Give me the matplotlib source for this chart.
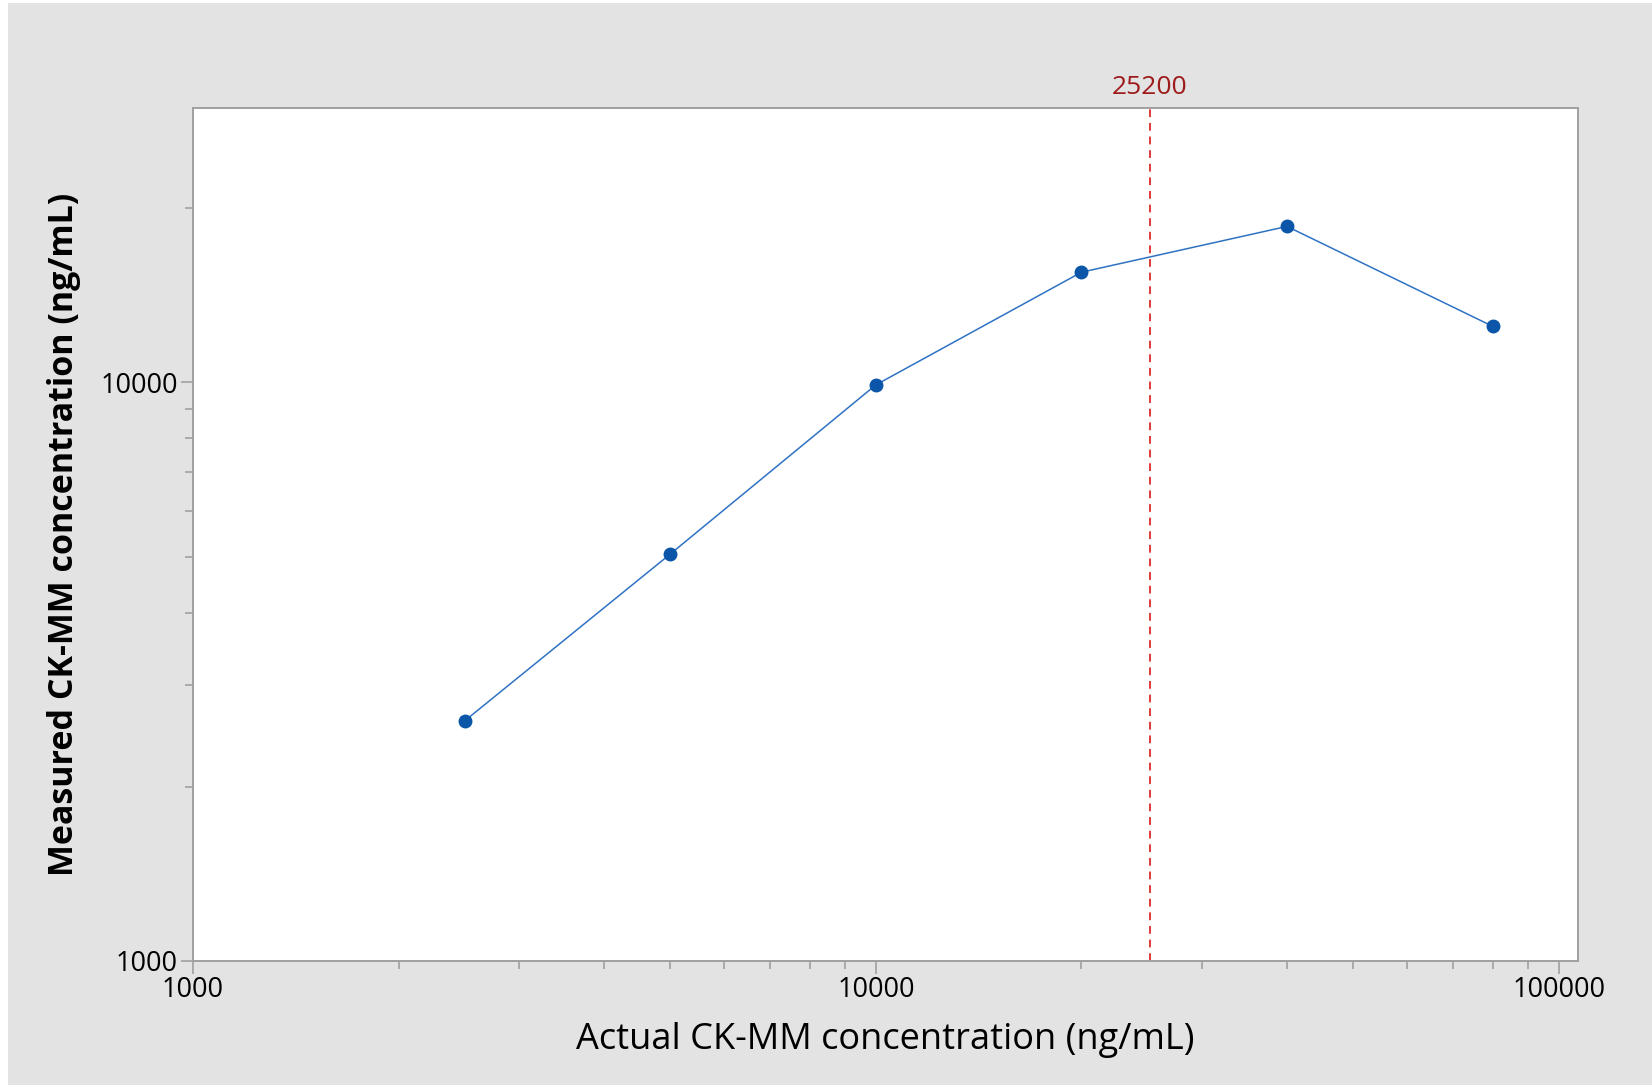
import matplotlib.pyplot as plt
from matplotlib.patches import Rectangle
from matplotlib.ticker import LogLocator, FixedLocator, NullFormatter

# actual vs measured CK-MM concentrations (ng/mL)
actual = [2500, 5000, 10000, 20000, 40000, 80000]
measured = [2600, 5050, 9900, 15500, 18600, 12500]
hook_cutoff = 25200

x_ticks = [1000, 10000, 100000]
y_ticks = [1000, 10000]

FONT = ["Open Sans", "DejaVu Sans"]
BG = "#e3e3e3"
SPINE = "#a0a0a0"

plt.rcParams["font.family"] = FONT

fig = plt.figure(figsize=(16.52, 10.85), dpi=100, facecolor="white")
fig.patches.append(Rectangle((8 / 1652, 0), 1, 1 - 3 / 1085, transform=fig.transFigure,
                             facecolor=BG, edgecolor="none", zorder=-10))
ax = fig.add_axes([0.1168, 0.1143, 0.9552 - 0.1168, 0.9005 - 0.1143])
ax.set_facecolor("white")

ax.plot(actual, measured, color="#2f72c4", linewidth=1.1, marker="o",
        markersize=9, markerfacecolor="#0b56a8", markeredgecolor="#0b56a8", zorder=3)
ax.axvline(hook_cutoff, color="#e03a3a", linestyle=(0, (4, 3)), linewidth=1.4, zorder=2)
ax.text(hook_cutoff, 1.009, f"{hook_cutoff}", transform=ax.get_xaxis_transform(),
        ha="center", va="bottom", color="#9e1b1b", fontsize=19)

ax.set_xscale("log")
ax.set_yscale("log")
ax.set_xlim(1000, 106700)
ax.set_ylim(1000, 29800)

ax.xaxis.set_major_locator(FixedLocator(x_ticks))
ax.yaxis.set_major_locator(FixedLocator(y_ticks))
ax.set_xticklabels([str(v) for v in x_ticks])
ax.set_yticklabels([str(v) for v in y_ticks])
for axis in (ax.xaxis, ax.yaxis):
    axis.set_minor_locator(LogLocator(base=10, subs=range(2, 10)))
    axis.set_minor_formatter(NullFormatter())

ax.tick_params(which="major", direction="out", length=9, width=1.2, color=SPINE,
               labelsize=19.5, labelcolor="black", pad=2)
ax.tick_params(which="minor", direction="out", length=6, width=1.2, color=SPINE)
for lbl in ax.get_xticklabels() + ax.get_yticklabels():
    lbl.set_fontweight("medium")

for s in ax.spines.values():
    s.set_color(SPINE)
    s.set_linewidth(1.4)

ax.set_xlabel("Actual CK-MM concentration (ng/mL)", fontsize=26, labelpad=13)
ax.set_ylabel("Measured CK-MM concentration (ng/mL)", fontsize=24.5, fontweight="bold", labelpad=14)

fig.savefig("out.png", dpi=100, facecolor=fig.get_facecolor())
